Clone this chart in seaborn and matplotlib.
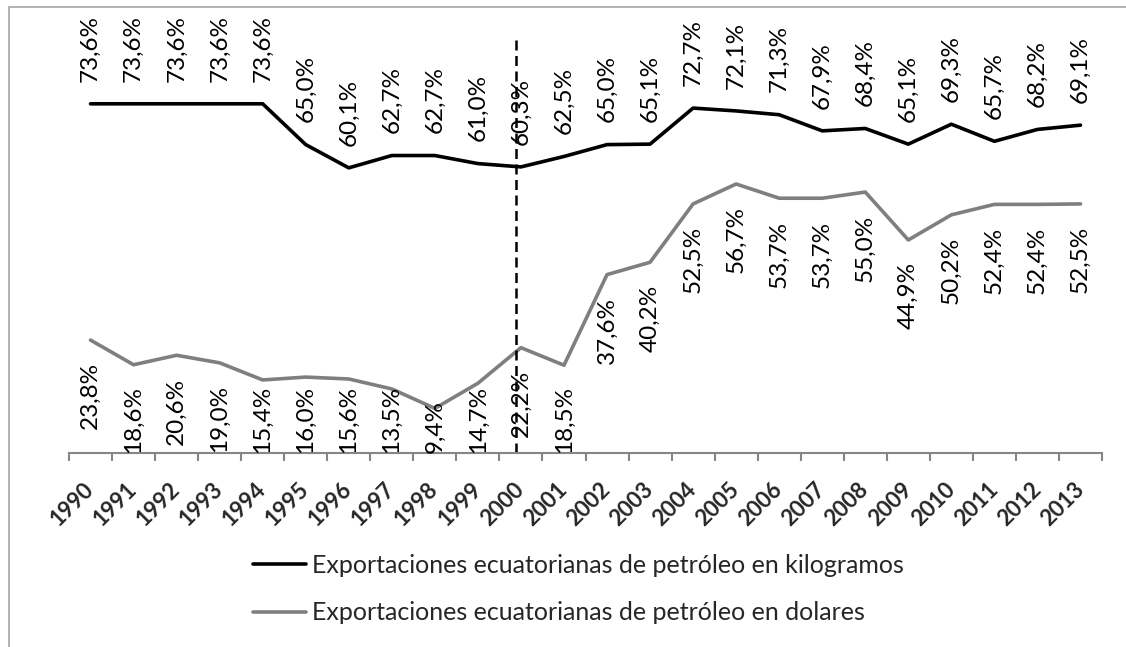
import matplotlib
matplotlib.use("Agg")
import matplotlib.pyplot as plt
import seaborn as sns
import pandas as pd
import numpy as np
from matplotlib.patches import Rectangle
from matplotlib.lines import Line2D

years = ["1990", "1991", "1992", "1993", "1994", "1995", "1996", "1997", "1998", "1999",
         "2000", "2001", "2002", "2003", "2004", "2005", "2006", "2007", "2008", "2009",
         "2010", "2011", "2012", "2013"]
kg_share = [73.6, 73.6, 73.6, 73.6, 73.6, 65.0, 60.1, 62.7, 62.7, 61.0,
            60.3, 62.5, 65.0, 65.1, 72.7, 72.1, 71.3, 67.9, 68.4, 65.1,
            69.3, 65.7, 68.2, 69.1]
usd_share = [23.8, 18.6, 20.6, 19.0, 15.4, 16.0, 15.6, 13.5, 9.4, 14.7,
             22.2, 18.5, 37.6, 40.2, 52.5, 56.7, 53.7, 53.7, 55.0, 44.9,
             50.2, 52.4, 52.4, 52.5]
series_names = ["Exportaciones ecuatorianas de petróleo en kilogramos",
                "Exportaciones ecuatorianas de petróleo en dolares"]

sns.set_theme(style="white")
plt.rcParams['font.family'] = ['Lato', 'DejaVu Sans']

W, H = 1126, 647
fig = plt.figure(figsize=(W / 100, H / 100), dpi=100)
ax = fig.add_axes([69 / W, 1 - 453 / H, (1102 - 69) / W, (453 - 26) / H])

idx = np.arange(len(years))
df = pd.DataFrame({"idx": np.concatenate([idx, idx]),
                   "val": kg_share + usd_share,
                   "serie": [series_names[0]] * len(years) + [series_names[1]] * len(years)})
palette = {series_names[0]: "#000000", series_names[1]: "#7f7f7f"}
sns.lineplot(data=df, x="idx", y="val", hue="serie", palette=palette, ax=ax,
             linewidth=2.6, legend=False)

ax.set_xlim(-0.5, len(years) - 0.5)
ax.set_ylim(0, 90)

LBL = 17.5
# data labels
for i, v in enumerate(kg_share):
    ax.annotate(f"{v:.1f}%".replace(".", ","), (i, v), xytext=(0, 16), textcoords="offset points",
                rotation=90, ha="center", va="bottom", fontsize=LBL, color="#000000",
                annotation_clip=False)

fig.canvas.draw()
renderer = fig.canvas.get_renderer()
axis_y_px = ax.transData.transform((0, 0))[1]
for i, v in enumerate(usd_share):
    t = ax.annotate(f"{v:.1f}%".replace(".", ","), (i, v), xytext=(0, -16), textcoords="offset points",
                    rotation=90, ha="center", va="top", fontsize=LBL, color="#000000",
                    annotation_clip=False)
    bb = t.get_window_extent(renderer)
    if bb.y0 < axis_y_px:
        shift_pt = (axis_y_px - bb.y0) * 72 / fig.dpi
        t.set_position((0, -16 + shift_pt))

# dashed vertical line
ax.plot([9.88, 9.88], [0, 87], color="#000000", linestyle=(0, (4, 2.2)), linewidth=1.8, clip_on=False)

# axes styling
for s in ["left", "right", "top"]:
    ax.spines[s].set_visible(False)
ax.spines["bottom"].set_color("#868686")
ax.spines["bottom"].set_linewidth(1.5)
ax.set_yticks([])
ax.set_xticks(idx)
ax.set_xticklabels(years, rotation=45, ha="right", va="center", rotation_mode="anchor",
                   fontsize=16, fontweight="bold")
ax.tick_params(axis="x", which="major", length=0, pad=24)
ax.set_xticks(np.arange(-0.5, len(years)), minor=True)
ax.tick_params(axis="x", which="minor", length=6, width=1.5, color="#868686", direction="out", bottom=True)
ax.set_xlabel("")
ax.set_ylabel("")

# legend
handles = [Line2D([], [], color="#000000", linewidth=2.6),
           Line2D([], [], color="#7f7f7f", linewidth=2.6)]
fig.legend(handles, series_names, loc="upper left", bbox_to_anchor=(253 / W, 1 - 554 / H),
           frameon=False, fontsize=18, handlelength=2.1, handletextpad=0.25,
           labelspacing=0.98, borderaxespad=0, borderpad=0)

# outer chart border (partially cropped)
fig.patches.append(Rectangle((9 / W, -0.05), 1.2, 1 - 7 / H + 0.05, transform=fig.transFigure,
                             fill=False, edgecolor="#a6a6a6", linewidth=1.2))

fig.savefig("out.png", dpi=100)
